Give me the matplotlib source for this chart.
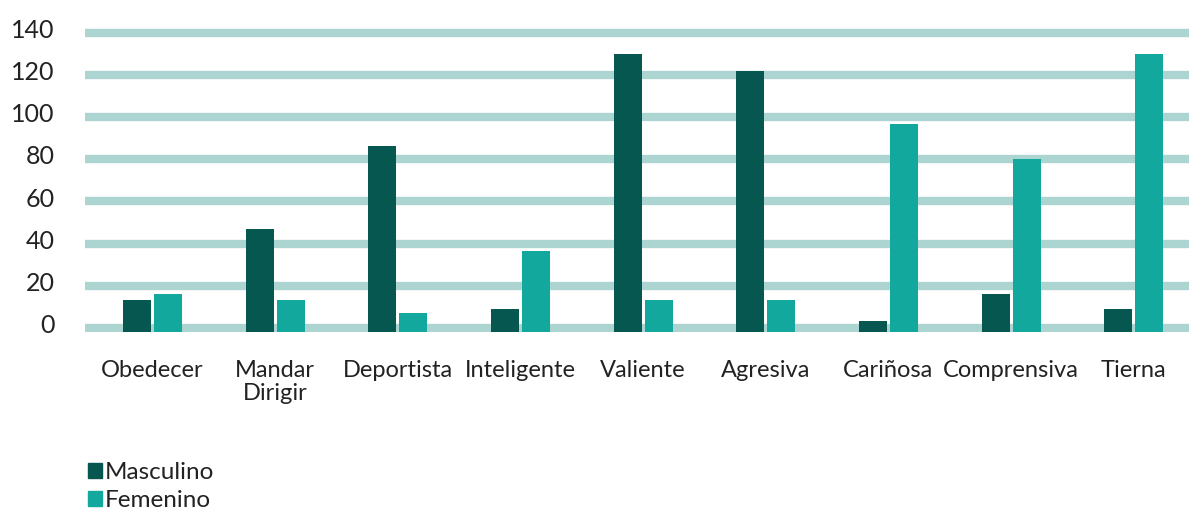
import numpy as np
from matplotlib import pyplot as plt
from matplotlib.patches import Rectangle
from matplotlib import transforms

plt.rcParams['font.family'] = ['Lato', 'DejaVu Sans']

# datos
categorias = ["Obedecer", "Mandar\nDirigir", "Deportista", "Inteligente", "Valiente",
              "Agresiva", "Cariñosa", "Comprensiva", "Tierna"]
masculino = [15, 48, 87, 11, 130, 122, 5, 18, 11]
femenino = [18, 15, 9, 38, 15, 15, 97, 81, 130]
ticks_y = [0, 20, 40, 60, 80, 100, 120, 140]

c_masc = "#055750"
c_fem = "#12a89d"
c_grid = "#acd5d2"
c_text = "#222222"

fig = plt.figure(figsize=(11.89, 5.11), dpi=100)
ax = fig.add_axes([0.0715, 0.35, 0.9285, 0.608])

x = np.arange(len(categorias))
w = 0.228
off = 0.126

# lineas de fondo gruesas
for t in ticks_y:
    ax.axhline(t * 0.985 + 1.9, color=c_grid, lw=6, zorder=0, solid_capstyle='butt')

ax.bar(x - off, masculino, w, color=c_masc, zorder=2, label="Masculino")
ax.bar(x + off, femenino, w, color=c_fem, zorder=2, label="Femenino")

ax.set_xlim(-0.55, 8.45)
ax.set_ylim(0, 145)
ax.set_yticks([t * 0.985 for t in ticks_y])
ax.set_yticklabels([str(t) for t in ticks_y], fontsize=18, color=c_text)
ax.set_xticks(x)
ax.set_xticklabels(categorias, fontsize=17, color=c_text, linespacing=1.15)
ax.tick_params(axis='both', length=0)
ax.tick_params(axis='x', pad=20)
ax.tick_params(axis='y', pad=22)

# etiquetas de y un poco arriba de la linea
dy = transforms.ScaledTranslation(0, 6 / 72, fig.dpi_scale_trans)
for lab in ax.get_yticklabels():
    lab.set_transform(lab.get_transform() + dy)

for s in ax.spines.values():
    s.set_visible(False)

handles = [Rectangle((0, 0), 1, 1, color=c_masc), Rectangle((0, 0), 1, 1, color=c_fem)]
fig.legend(handles, ["Masculino", "Femenino"], loc='lower left',
           bbox_to_anchor=(0.056, -0.043), frameon=False, fontsize=17.5,
           handlelength=0.55, handleheight=0.55, handletextpad=0.1,
           labelspacing=0.3, labelcolor=c_text)

plt.savefig("out.png", dpi=100)
